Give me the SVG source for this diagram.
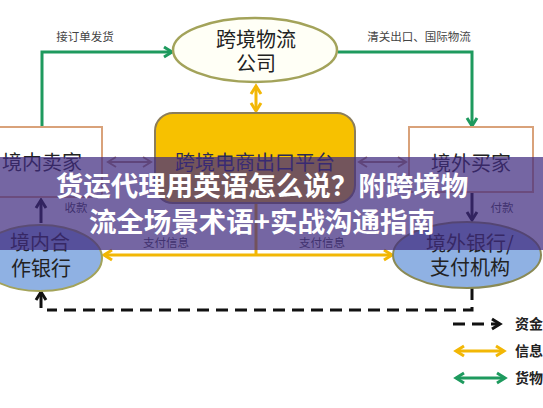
<svg xmlns="http://www.w3.org/2000/svg" width="543" height="408" viewBox="0 0 543 408">
<style>
.lbl{font-family:"Noto Sans CJK SC","Noto Sans",sans-serif;font-size:20px;fill:#222;text-anchor:middle}
.sm{font-family:"Noto Sans CJK SC","Noto Sans",sans-serif;font-size:11.5px;fill:#444;text-anchor:middle}
.lg{font-family:"Noto Sans CJK SC","Noto Sans",sans-serif;font-size:14px;font-weight:bold;fill:#222}
.title{font-family:"Noto Sans CJK SC","Noto Sans",sans-serif;font-size:27.5px;font-weight:bold;fill:#fff;text-anchor:middle}
.green{stroke:#1e9a5e;stroke-width:3;fill:none}
.yellow{stroke:#f2b705;stroke-width:3;fill:none}
.grey{stroke:#b08a70;stroke-width:2;fill:none}
.dark{stroke:#111;stroke-width:3;fill:none}
.dash{stroke:#111;stroke-width:3;fill:none;stroke-dasharray:12 7}
</style>
<defs>
<marker id="mg" markerUnits="userSpaceOnUse" markerWidth="14" markerHeight="14" refX="11" refY="7" orient="auto-start-reverse"><path d="M3,2 L11,7 L3,12" fill="none" stroke="#1e9a5e" stroke-width="3"/></marker>
<marker id="my" markerUnits="userSpaceOnUse" markerWidth="14" markerHeight="14" refX="11" refY="7" orient="auto-start-reverse"><path d="M3,2 L11,7 L3,12" fill="none" stroke="#f2b705" stroke-width="3"/></marker>
<marker id="mgr" markerUnits="userSpaceOnUse" markerWidth="14" markerHeight="14" refX="11" refY="7" orient="auto-start-reverse"><path d="M3,2 L11,7 L3,12" fill="none" stroke="#b08a70" stroke-width="2"/></marker>
<marker id="mk" markerUnits="userSpaceOnUse" markerWidth="14" markerHeight="14" refX="11" refY="7" orient="auto-start-reverse"><path d="M3,2 L11,7 L3,12" fill="none" stroke="#111" stroke-width="3"/></marker>
</defs>
<rect width="543" height="408" fill="#fff"/>

<g id="connectors">
  <polyline class="green" points="42,127 42,52 172,52" marker-end="url(#mg)"/>
  <polyline class="green" points="338,52 472,52 472,126" marker-end="url(#mg)"/>
  <line class="yellow" x1="256" y1="86" x2="256" y2="111" marker-start="url(#my)" marker-end="url(#my)"/>
  <line class="grey" x1="108" y1="162" x2="151" y2="162" marker-start="url(#mgr)" marker-end="url(#mgr)"/>
  <line class="grey" x1="359" y1="162" x2="406" y2="162" marker-start="url(#mgr)" marker-end="url(#mgr)"/>
  <line class="dark" x1="41" y1="223" x2="41" y2="200" marker-end="url(#mk)"/>
  <line class="dark" x1="472" y1="193" x2="472" y2="220" marker-end="url(#mk)"/>
  <line class="yellow" x1="256" y1="203" x2="256" y2="255"/>
  <line class="yellow" x1="104" y1="255" x2="392" y2="255" marker-start="url(#my)" marker-end="url(#my)"/>
  <polyline class="dash" points="472,288 472,310 47,310"/>
  <line class="dark" x1="41" y1="308" x2="41" y2="292" marker-end="url(#mk)"/>
  <text class="sm" x="85" y="41" font-size="12">接订单发货</text>
  <text class="sm" x="419" y="41" font-size="12.5">清关出口、国际物流</text>
  <text class="sm" x="76" y="212">收款</text>
  <text class="sm" x="502" y="212">付款</text>
  <text class="sm" x="166" y="247">支付信息</text>
  <text class="sm" x="322" y="247">支付信息</text>
</g>

<g id="logistics">
  <ellipse cx="255" cy="50" rx="82" ry="32" fill="#fffff6" stroke="#a3a35a" stroke-width="2.5"/>
  <text class="lbl" x="256" y="47">跨境物流</text>
  <text class="lbl" x="256" y="71">公司</text>
</g>

<g id="domestic-seller">
  <rect x="-5" y="127" width="107" height="70" fill="#fff" stroke="#d9a27a" stroke-width="2"/>
  <text class="lbl" x="42" y="170">境内卖家</text>
</g>

<g id="platform">
  <rect x="155" y="113" width="200" height="90" rx="18" fill="#f7c100" stroke="#8b7d5a" stroke-width="2"/>
  <text class="lbl" x="255" y="170" style="fill:#2a2a55">跨境电商出口平台</text>
</g>

<g id="foreign-buyer">
  <rect x="409" y="127" width="124" height="65" fill="#fff" stroke="#d9a27a" stroke-width="2"/>
  <text class="lbl" x="471" y="171">境外买家</text>
</g>

<g id="domestic-bank">
  <ellipse cx="40" cy="258" rx="62" ry="33" fill="#8fb1e3" stroke="#a3a35a" stroke-width="2"/>
  <text class="lbl" x="40" y="250" font-size="21">境内合</text>
  <text class="lbl" x="41" y="276" font-size="21">作银行</text>
</g>

<g id="foreign-bank">
  <ellipse cx="467" cy="255" rx="74" ry="33" fill="#8fb1e3" stroke="#8a8a55" stroke-width="2"/>
  <text class="lbl" x="470" y="251">境外银行/</text>
  <text class="lbl" x="470" y="275">支付机构</text>
</g>

<g id="legend">
  <line class="dash" x1="453" y1="324" x2="500" y2="324" stroke-dasharray="9 6" marker-end="url(#mk)"/>
  <text class="lg" x="515" y="329">资金</text>
  <line class="yellow" x1="456" y1="351" x2="504" y2="351" marker-start="url(#my)" marker-end="url(#my)"/>
  <text class="lg" x="515" y="356">信息</text>
  <line class="green" x1="456" y1="378" x2="505" y2="378" stroke-width="2.5" marker-start="url(#mg)" marker-end="url(#mg)"/>
  <text class="lg" x="515" y="383">货物</text>
</g>

<g id="banner">
  <rect x="0" y="157" width="543" height="93" fill="#402b80" opacity="0.72"/>
  <text class="title" x="262" y="196">货运代理用英语怎么说？附跨境物</text>
  <text class="title" x="262" y="232">流全场景术语+实战沟通指南</text>
</g>
</svg>
